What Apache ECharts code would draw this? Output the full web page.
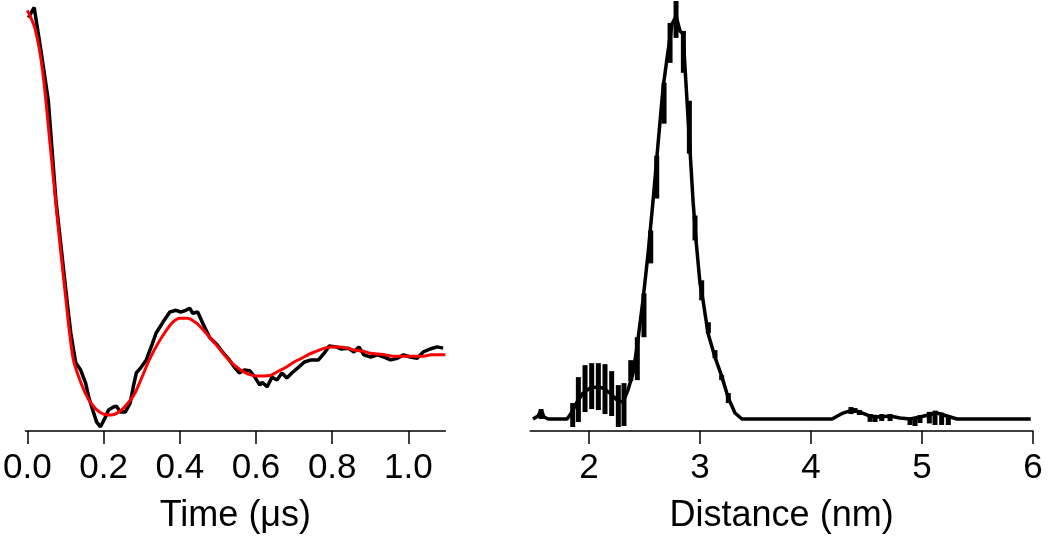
<!DOCTYPE html>
<html>
<head>
<meta charset="utf-8">
<script src="https://cdn.jsdelivr.net/npm/echarts@6/dist/echarts.min.js"></script>
<style>
  html, body { margin: 0; padding: 0; background: #fff; }
  #main { width: 1050px; height: 543px; }
</style>
</head>
<body>
<div id="main"></div>
<script>
// time domain trace (us) and normalised echo
var rawTime = [0.003, 0.018, 0.036, 0.055, 0.075, 0.104, 0.114, 0.127, 0.140, 0.153, 0.161, 0.169, 0.174, 0.182, 0.192, 0.197,
  0.205, 0.213, 0.226, 0.234, 0.244, 0.257, 0.270, 0.278, 0.286, 0.299, 0.312, 0.325, 0.338, 0.356, 0.374, 0.390,
  0.403, 0.416, 0.426, 0.434, 0.447, 0.460, 0.478, 0.499, 0.512, 0.530, 0.545, 0.556, 0.569, 0.584, 0.597, 0.610,
  0.616, 0.629, 0.642, 0.655, 0.668, 0.681, 0.694, 0.712, 0.727, 0.745, 0.764, 0.779, 0.792, 0.810, 0.823, 0.842,
  0.857, 0.870, 0.883, 0.901, 0.919, 0.935, 0.953, 0.971, 0.987, 1.005, 1.023, 1.039, 1.057, 1.075, 1.091];
var rawSignal = [0.983, 1.007, 0.903, 0.786, 0.549, 0.311, 0.233, 0.162, 0.145, 0.114, 0.081, 0.057, 0.043, 0.021, 0.010, 0.014,
  0.033, 0.050, 0.057, 0.059, 0.045, 0.045, 0.067, 0.105, 0.138, 0.152, 0.169, 0.200, 0.233, 0.259, 0.283, 0.287,
  0.283, 0.287, 0.292, 0.280, 0.283, 0.257, 0.223, 0.204, 0.188, 0.169, 0.150, 0.138, 0.145, 0.143, 0.128, 0.109,
  0.116, 0.105, 0.128, 0.121, 0.138, 0.126, 0.138, 0.152, 0.164, 0.169, 0.169, 0.185, 0.202, 0.200, 0.195, 0.197,
  0.188, 0.200, 0.181, 0.176, 0.181, 0.176, 0.169, 0.173, 0.181, 0.176, 0.173, 0.188, 0.195, 0.200, 0.197];

var fitTime = [0, 0.02, 0.04, 0.06, 0.08, 0.10, 0.12, 0.14, 0.16, 0.18, 0.20, 0.22, 0.24, 0.26, 0.28, 0.30, 0.32, 0.34,
  0.36, 0.38, 0.40, 0.42, 0.44, 0.46, 0.48, 0.50, 0.52, 0.54, 0.56, 0.58, 0.60, 0.62, 0.64, 0.66, 0.68, 0.70,
  0.72, 0.74, 0.76, 0.78, 0.80, 0.82, 0.84, 0.86, 0.88, 0.90, 0.92, 0.94, 0.96, 0.98, 1.00, 1.02, 1.04, 1.06, 1.08, 1.097];
var fitSignal = [1.000, 0.957, 0.857, 0.679, 0.494, 0.323, 0.173, 0.116, 0.076, 0.052, 0.040, 0.038, 0.045, 0.062, 0.086, 0.126, 0.169, 0.204,
  0.233, 0.257, 0.268, 0.268, 0.259, 0.242, 0.221, 0.200, 0.178, 0.159, 0.145, 0.135, 0.131, 0.131, 0.133, 0.143, 0.152, 0.164,
  0.173, 0.183, 0.190, 0.197, 0.200, 0.200, 0.197, 0.192, 0.190, 0.185, 0.183, 0.181, 0.178, 0.178, 0.178, 0.178, 0.178, 0.181, 0.181, 0.181];

// distance distribution (nm) with error bars
var distR = [1.495, 1.541, 1.568, 1.595, 1.631, 1.802, 1.847, 1.892, 1.946, 2.009, 2.072, 2.126, 2.189, 2.252, 2.306, 2.351,
  2.396, 2.432, 2.486, 2.532, 2.577, 2.622, 2.667, 2.712, 2.748, 2.784, 2.820, 2.847, 2.865, 2.892, 2.910, 2.937,
  2.964, 3.000, 3.027, 3.072, 3.135, 3.198, 3.252, 3.315, 3.378, 4.189, 4.288, 4.369, 4.441, 4.532, 4.622, 4.712,
  4.802, 4.892, 4.982, 5.054, 5.135, 5.225, 5.315, 5.98];
var distP = [0, 0.0075, 0.0225, 0.005, 0, 0, 0.0175, 0.0425, 0.065, 0.0775, 0.08, 0.0775, 0.065, 0.0475, 0.0425, 0.0725,
  0.115, 0.18, 0.2975, 0.415, 0.5475, 0.69, 0.83, 0.9225, 0.99, 1.01, 0.9725, 0.965, 0.88, 0.755, 0.6725, 0.5475,
  0.4475, 0.34, 0.2975, 0.215, 0.155, 0.105, 0.055, 0.015, 0, 0, 0.015, 0.0225, 0.0175, 0.0075, 0.005, 0.0075,
  0.0025, 0, 0.005, 0.01, 0.015, 0.0075, 0, 0];

var barR = [1.568, 1.853, 1.904, 1.964, 2.024, 2.084, 2.144, 2.204, 2.264, 2.315, 2.376, 2.435, 2.495, 2.556, 2.61,
  2.676, 2.73, 2.784, 2.85, 2.904, 2.955, 3.015, 3.075, 3.135, 3.195, 3.255,
  4.36, 4.396, 4.435, 4.532, 4.577, 4.637, 4.712, 4.892, 4.937, 4.982, 5.066, 5.117, 5.177, 5.237];
var barLow = [0, -0.02, -0.0075, 0.0175, 0.025, 0.0225, 0.0125, 0.0075, -0.02, -0.0175, 0.095, 0.0975, 0.205, 0.39, 0.5525,
  0.74, 0.8925, 0.955, 0.8675, 0.665, 0.4475, 0.2975, 0.215, 0.1525, 0.0975, 0.04,
  0.0125, 0.015, 0.01, -0.007, -0.0075, -0.005, -0.005, -0.015, -0.0175, -0.01, -0.011, -0.015, -0.015, -0.015];
var barHigh = [0.025, 0.04, 0.105, 0.135, 0.14, 0.14, 0.1375, 0.12, 0.085, 0.09, 0.1475, 0.205, 0.315, 0.4725, 0.66,
  0.8425, 0.9925, 1.0475, 0.9725, 0.7975, 0.51, 0.3475, 0.2425, 0.1725, 0.11, 0.065,
  0.03, 0.0275, 0.0225, 0.0125, 0.01, 0.0125, 0.0125, 0.0025, 0.005, 0.01, 0.018, 0.021, 0.016, 0.01];

var timeTicks = [0, 0.2, 0.4, 0.6, 0.8, 1.0];
var distTicks = [2, 3, 4, 5, 6];

function zip(a, b) {
  return a.map(function (v, i) { return [v, b[i]]; });
}

var axisFont = 'Liberation Sans, Arial, sans-serif';

function bottomAxis(idx, min, max, ticks, fmt, name) {
  return {
    type: 'value', gridIndex: idx, min: min, max: max,
    splitLine: { show: false },
    axisLine: { show: true, onZero: false, lineStyle: { color: '#000', width: 1.5 } },
    axisTick: { show: true, inside: false, length: 13, customValues: ticks, lineStyle: { color: '#000', width: 1.5 } },
    axisLabel: { customValues: ticks, margin: 20, color: '#000', fontSize: 35, fontFamily: axisFont, formatter: fmt },
    name: name, nameLocation: 'middle', nameGap: 67,
    nameTextStyle: { color: '#000', fontSize: 36, fontFamily: axisFont }
  };
}

var chart = echarts.init(document.getElementById('main'));
chart.setOption({
  animation: false,
  backgroundColor: '#fff',
  grid: [
    { left: 21.1, width: 424.3, top: 2, bottom: 112 },
    { left: 530.2, right: 17, top: 0, bottom: 112 }
  ],
  xAxis: [
    bottomAxis(0, -0.005, 1.097, timeTicks, function (v) { return v.toFixed(1); }, 'Time (\u03bcs)'),
    bottomAxis(1, 1.47, 6, distTicks, function (v) { return String(v); }, 'Distance (nm)')
  ],
  yAxis: [
    { type: 'value', gridIndex: 0, min: 0, max: 1.02, show: false },
    { type: 'value', gridIndex: 1, min: -0.03, max: 1.05, show: false }
  ],
  series: [
    {
      type: 'line', xAxisIndex: 0, yAxisIndex: 0, data: zip(rawTime, rawSignal),
      showSymbol: false, clip: false,
      lineStyle: { color: '#000', width: 3.5 }
    },
    {
      type: 'line', xAxisIndex: 0, yAxisIndex: 0, data: zip(fitTime, fitSignal),
      showSymbol: false, smooth: 0.3, clip: false,
      lineStyle: { color: '#ff0000', width: 3 }
    },
    {
      type: 'line', xAxisIndex: 1, yAxisIndex: 1, data: zip(distR, distP),
      showSymbol: false, clip: false,
      lineStyle: { color: '#000', width: 3.5 }
    },
    {
      type: 'custom', xAxisIndex: 1, yAxisIndex: 1, clip: false,
      data: barR.map(function (r, i) { return [r, barLow[i], barHigh[i]]; }),
      renderItem: function (params, api) {
        var lo = api.coord([api.value(0), api.value(1)]);
        var hi = api.coord([api.value(0), api.value(2)]);
        return {
          type: 'line',
          shape: { x1: lo[0], y1: lo[1], x2: hi[0], y2: hi[1] },
          style: { stroke: '#000', lineWidth: 5 }
        };
      }
    }
  ]
});
</script>
</body>
</html>
